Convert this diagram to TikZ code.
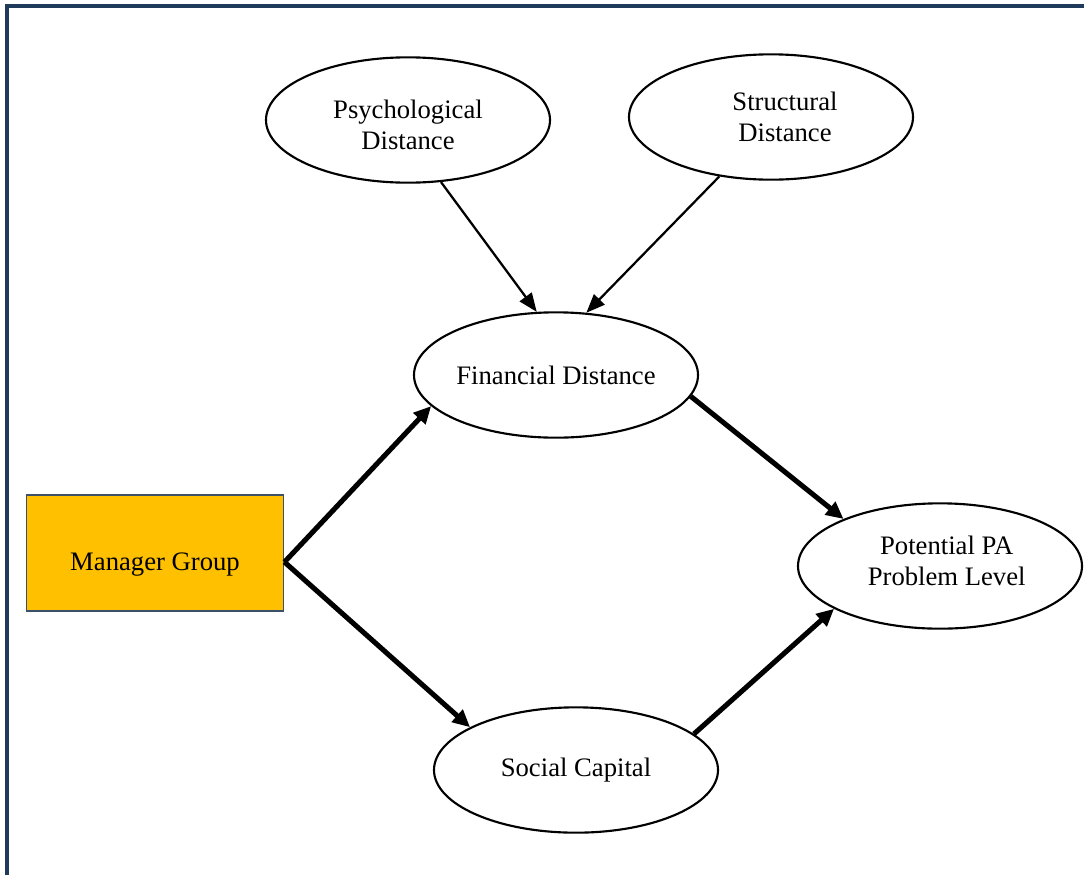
\documentclass[tikz,border=0pt]{standalone}
\usepackage{fontspec}
\setmainfont{Liberation Serif}
\usetikzlibrary{shapes.geometric, arrows.meta}
\definecolor{frameblue}{RGB}{31,58,90}
\definecolor{boxedge}{RGB}{60,80,105}
\definecolor{boxgold}{RGB}{255,192,0}
\tikzstyle{factor}=[ellipse, draw, line width=1.6pt, inner sep=0pt, minimum width=213pt, minimum height=94pt, align=center, font=\fontsize{20}{23.5}\selectfont]
\tikzstyle{groupbox}=[rectangle, draw=boxedge, line width=1.2pt, fill=boxgold, minimum width=193pt, minimum height=87pt, font=\fontsize{20}{23.5}\selectfont]
\tikzstyle{thinlink}=[line width=1.7pt, -{Triangle[length=14pt,width=11pt]}]
\tikzstyle{thicklink}=[line width=3.8pt, -{Triangle[length=13pt,width=12pt]}]

\begin{document}
\begin{tikzpicture}[x=0.75pt, y=-0.75pt]
\useasboundingbox (0,0) rectangle (1084,875);
% Frame
    \draw[frameblue, line width=3pt] (7,875) -- (7,6) -- (1084,6);
% Factors
    \node[factor, text height=44.5pt] (psy) at (408,120) {Psychological\\Distance};
    \node[factor] (str) at (771,117) {\hspace*{21pt}Structural\\\hspace*{21pt}Distance};
    \node[factor] (fin) at (556,375) {Financial Distance};
    \node[factor, text depth=8pt] (pot) at (940,566) {\hspace*{10pt}Potential PA\\\hspace*{10pt}Problem Level};
    \node[groupbox, text height=30pt] (mgr) at (155,553) {Manager Group};
    \node[factor] (soc) at (576,770) {Social Capital};
% Links
    \draw[thinlink] (psy.-62) -- (fin.107);
    \draw[thinlink] (str.-131) -- (fin.64);
    \draw[thicklink] (mgr.-4) -- (fin.-166);
    \draw[thicklink] (mgr.-4) -- (soc.158);
    \draw[thicklink] (fin.-9) -- (pot.154);
    \draw[thicklink] (soc.17) -- (pot.-158);
\end{tikzpicture}
\end{document}
